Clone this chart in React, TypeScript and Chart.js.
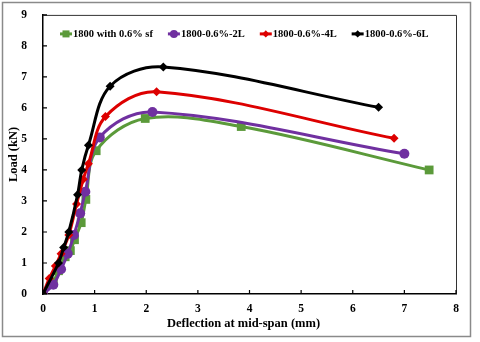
import React, { useEffect, useRef } from "react";
import { Chart, registerables } from "chart.js";

Chart.register(...registerables);

const seriesNames = ["1800 with 0.6% sf", "1800-0.6%-2L", "1800-0.6%-4L", "1800-0.6%-6L"];

const sfX = [0, 0.2, 0.3, 0.43, 0.53, 0.61, 0.74, 0.83, 1.03, 1.98, 3.84, 7.48];
const sfY = [0, 0.4, 0.75, 1.2, 1.4, 1.75, 2.3, 3.05, 4.62, 5.66, 5.4, 4.0];

const l2X = [0, 0.2, 0.35, 0.48, 0.6, 0.72, 0.82, 1.1, 2.12, 7.0];
const l2Y = [0, 0.3, 0.8, 1.3, 1.9, 2.6, 3.3, 5.05, 5.87, 4.52];

const l4X = [0, 0.12, 0.24, 0.35, 0.5, 0.65, 0.78, 0.88, 1.21, 2.2, 6.8];
const l4Y = [0, 0.5, 0.9, 1.3, 1.9, 2.9, 3.7, 4.2, 5.72, 6.52, 5.02];

const l6X = [0, 0.3, 0.4, 0.5, 0.67, 0.75, 0.88, 1.3, 2.33, 6.5];
const l6Y = [0, 1.0, 1.5, 2.0, 3.2, 4.0, 4.8, 6.7, 7.32, 6.02];

const xTicks = [0, 1, 2, 3, 4, 5, 6, 7, 8];
const yTicks = [0, 1, 2, 3, 4, 5, 6, 7, 8, 9];

const colors = ["#5b9a3a", "#7030a0", "#dd0000", "#000000"];
const styles = ["rect", "circle", "rectRot", "rectRot"];
const radii = [6.2, 5, 4.5, 4.5];

const FONT = "'Liberation Serif', 'Times New Roman', serif";

const zip = (xs: number[], ys: number[]) => xs.map((x, i) => ({ x, y: ys[i] }));

function drawMarker(ctx: CanvasRenderingContext2D, style: string, x: number, y: number, r: number) {
  ctx.beginPath();
  if (style === "rect") {
    const s = Math.SQRT1_2 * r;
    ctx.rect(x - s, y - s, 2 * s, 2 * s);
  } else if (style === "circle") {
    ctx.arc(x, y, r, 0, Math.PI * 2);
  } else {
    ctx.moveTo(x - r, y);
    ctx.lineTo(x, y - r);
    ctx.lineTo(x + r, y);
    ctx.lineTo(x, y + r);
    ctx.closePath();
  }
  ctx.fill();
}

const decorPlugin = {
  id: "decor",
  beforeDraw(chart: any) {
    const ctx = chart.ctx;
    ctx.save();
    ctx.fillStyle = "#fff";
    ctx.fillRect(0, 0, chart.width, chart.height);
    ctx.strokeStyle = "#8a8a8a";
    ctx.lineWidth = 1.5;
    ctx.strokeRect(2.5, 2.5, 468, 334);
    ctx.restore();
  },
  afterDraw(chart: any) {
    const ctx = chart.ctx;
    const a = chart.chartArea;
    const xs = chart.scales.x;
    const ys = chart.scales.y;
    ctx.save();
    ctx.strokeStyle = "#333";
    ctx.lineWidth = 1;
    ctx.beginPath();
    ctx.moveTo(a.left, a.top + 0.5);
    ctx.lineTo(a.right + 0.5, a.top + 0.5);
    ctx.lineTo(a.right + 0.5, a.bottom);
    ctx.stroke();
    ctx.strokeStyle = "#000";
    ctx.lineWidth = 1.2;
    ctx.beginPath();
    xTicks.forEach((v) => {
      const px = xs.getPixelForValue(v);
      ctx.moveTo(px, a.bottom);
      ctx.lineTo(px, a.bottom - 4);
    });
    yTicks.forEach((v) => {
      const py = ys.getPixelForValue(v);
      ctx.moveTo(a.left, py);
      ctx.lineTo(a.left + 4, py);
    });
    ctx.stroke();
    ctx.font = `bold 12.5px ${FONT}`;
    ctx.fillStyle = "#000";
    ctx.textAlign = "center";
    ctx.textBaseline = "middle";
    ctx.fillText("Deflection at mid-span (mm)", (a.left + a.right) / 2 - 6, a.bottom + 30);
    ctx.font = `bold 10.5px ${FONT}`;
    ctx.textAlign = "left";
    let x = a.left + 17;
    const y = a.top + 19;
    chart.data.datasets.forEach((ds: any, i: number) => {
      ctx.strokeStyle = colors[i];
      ctx.lineWidth = 3;
      ctx.beginPath();
      ctx.moveTo(x, y);
      ctx.lineTo(x + 12, y);
      ctx.stroke();
      ctx.fillStyle = colors[i];
      drawMarker(ctx, styles[i], x + 6, y, radii[i] * 0.8);
      ctx.fillStyle = "#000";
      ctx.fillText(ds.label, x + 13, y);
      x += 13 + ctx.measureText(ds.label).width + 15;
    });
    ctx.restore();
  },
};

export default function App() {
  const ref = useRef<HTMLCanvasElement | null>(null);
  useEffect(() => {
    document.body.style.margin = "0";
    const data = [zip(sfX, sfY), zip(l2X, l2Y), zip(l4X, l4Y), zip(l6X, l6Y)];
    const chart = new Chart(ref.current as HTMLCanvasElement, {
      type: "line",
      data: {
        datasets: data.map((d, i) => ({
          label: seriesNames[i],
          data: d,
          borderColor: colors[i],
          backgroundColor: colors[i],
          borderWidth: 3,
          pointStyle: styles[i] as any,
          pointRadius: radii[i],
          pointBorderWidth: 0,
          tension: 0.35,
          order: 4 - i,
          fill: false,
        })),
      },
      options: {
        responsive: false,
        animation: false,
        layout: { padding: { top: 14, right: 24, left: 0, bottom: 0 } },
        plugins: { legend: { display: false }, tooltip: { enabled: false } },
        scales: {
          x: {
            type: "linear",
            min: 0,
            max: 8,
            afterFit: (s: any) => {
              s.height = 48;
            },
            ticks: {
              stepSize: 1,
              padding: 0,
              color: "#000",
              font: { family: FONT, weight: "bold", size: 11.5 },
            },
            grid: { display: false },
            border: { display: true, color: "#000", width: 1.5 },
            title: { display: false },
          },
          y: {
            type: "linear",
            min: 0,
            max: 9,
            afterFit: (s: any) => {
              s.width = 43;
            },
            ticks: {
              stepSize: 1,
              padding: 8,
              color: "#000",
              font: { family: FONT, weight: "bold", size: 11.5 },
            },
            grid: { display: false },
            border: { display: true, color: "#000", width: 1.5 },
            title: {
              display: true,
              text: "Load (kN)",
              color: "#000",
              font: { family: FONT, weight: "bold", size: 12.5 },
              padding: { top: 6, bottom: 0 },
            },
          },
        },
      },
      plugins: [decorPlugin],
    });
    return () => chart.destroy();
  }, []);
  return (
    <div style={{ position: "absolute", left: 0, top: 0, width: 480, height: 342 }}>
      <canvas ref={ref} width={480} height={342} />
    </div>
  );
}
